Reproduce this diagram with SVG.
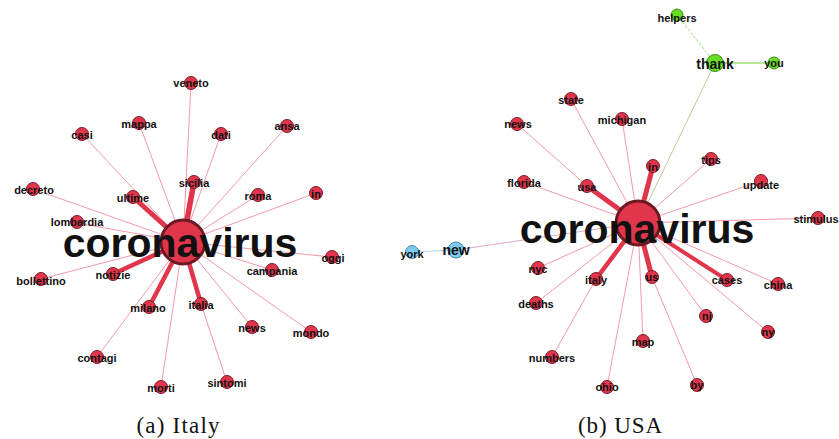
<svg xmlns="http://www.w3.org/2000/svg" width="839" height="439" viewBox="0 0 839 439">
<style>
.n{fill:#e0354b;stroke:#7a1f2b;stroke-width:1}
.hub{fill:#e0354b;stroke:#6b1a24;stroke-width:3}
.g{fill:#66dd22;stroke:#3a8a1a;stroke-width:1}
.b{fill:#7ccaf0;stroke:#4a88aa;stroke-width:1}
.l{font-family:"Liberation Sans",Arial,sans-serif;font-weight:bold;font-size:11px;fill:#111;text-anchor:middle}
.lb{font-family:"Liberation Sans",Arial,sans-serif;font-weight:bold;font-size:14px;fill:#111;text-anchor:middle}
.h{font-family:"Liberation Sans",Arial,sans-serif;font-weight:bold;font-size:41px;fill:#111;text-anchor:middle}
.e{stroke:#f07f96;stroke-width:0.8;fill:none}
.t{stroke:#e0354b;fill:none;stroke-linecap:round}
.cap{font-family:"Liberation Serif","Times New Roman",serif;font-size:23px;fill:#111;text-anchor:middle}
</style>
<g id="connectors">
<line class="e" x1="183" y1="242" x2="191" y2="83"/>
<line class="e" x1="183" y1="242" x2="82" y2="134"/>
<line class="e" x1="183" y1="242" x2="139" y2="123"/>
<line class="e" x1="183" y1="242" x2="221" y2="134"/>
<line class="e" x1="183" y1="242" x2="287" y2="126"/>
<line class="e" x1="183" y1="242" x2="33" y2="189"/>
<line class="e" x1="183" y1="242" x2="258" y2="195"/>
<line class="e" x1="183" y1="242" x2="316" y2="193"/>
<line class="e" x1="183" y1="242" x2="77" y2="223"/>
<line class="e" x1="183" y1="242" x2="332" y2="257"/>
<line class="e" x1="183" y1="242" x2="41" y2="279"/>
<line class="e" x1="183" y1="242" x2="272" y2="270"/>
<line class="e" x1="183" y1="242" x2="97" y2="357"/>
<line class="e" x1="183" y1="242" x2="161" y2="387"/>
<line class="e" x1="183" y1="242" x2="252" y2="327"/>
<line class="e" x1="183" y1="242" x2="311" y2="332"/>
<line class="e" x1="201" y1="304" x2="227" y2="382"/>
<line class="t" stroke-width="5.5" x1="183" y1="242" x2="194" y2="182"/>
<line class="t" stroke-width="5" x1="183" y1="242" x2="133" y2="197"/>
<line class="t" stroke-width="4.5" x1="183" y1="242" x2="113" y2="274"/>
<line class="t" stroke-width="4.5" x1="183" y1="242" x2="149" y2="307"/>
<line class="t" stroke-width="4.5" x1="183" y1="242" x2="201" y2="304"/>
<line class="e" x1="638" y1="223" x2="571" y2="99"/>
<line class="e" x1="638" y1="223" x2="622" y2="119"/>
<line class="e" x1="587" y1="186" x2="517" y2="124"/>
<line class="e" x1="638" y1="223" x2="524" y2="182"/>
<line class="e" x1="638" y1="223" x2="711" y2="159"/>
<line class="e" x1="638" y1="223" x2="761" y2="181"/>
<line class="e" x1="638" y1="223" x2="818" y2="218"/>
<line class="e" x1="638" y1="223" x2="538" y2="268"/>
<line class="e" x1="638" y1="223" x2="536" y2="303"/>
<line class="e" x1="596" y1="279" x2="552" y2="357"/>
<line class="e" x1="638" y1="223" x2="607" y2="387"/>
<line class="e" x1="638" y1="223" x2="643" y2="341"/>
<line class="e" x1="652" y1="277" x2="697" y2="385"/>
<line class="e" x1="638" y1="223" x2="706" y2="316"/>
<line class="e" x1="638" y1="223" x2="768" y2="332"/>
<line class="e" x1="638" y1="223" x2="778" y2="284"/>
<line stroke="#d8a0c0" stroke-width="0.9" x1="638" y1="223" x2="456" y2="250"/>
<line stroke="#a8d8f0" stroke-width="1" x1="456" y1="250" x2="412" y2="252"/>
<line stroke="#c8c89a" stroke-width="1" x1="638" y1="223" x2="715" y2="63"/>
<line stroke="#9be070" stroke-width="1" stroke-dasharray="3 1.5" x1="715" y1="63" x2="677" y2="15"/>
<line stroke="#9be070" stroke-width="1.6" x1="715" y1="63" x2="774" y2="63"/>
<line class="t" stroke-width="5" x1="638" y1="223" x2="587" y2="186"/>
<line class="t" stroke-width="5" x1="638" y1="223" x2="653" y2="166"/>
<line class="t" stroke-width="4.5" x1="638" y1="223" x2="596" y2="279"/>
<line class="t" stroke-width="5" x1="638" y1="223" x2="652" y2="277"/>
<line class="t" stroke-width="4" x1="638" y1="223" x2="727" y2="280"/>
</g>
<g id="veneto"><circle class="n" cx="191" cy="83" r="6.5"/><text class="l" x="191" y="87">veneto</text></g>
<g id="casi"><circle class="n" cx="82" cy="134" r="6.5"/><text class="l" x="82" y="139">casi</text></g>
<g id="mappa"><circle class="n" cx="139" cy="123" r="6.5"/><text class="l" x="139" y="128">mappa</text></g>
<g id="dati"><circle class="n" cx="221" cy="134" r="6.5"/><text class="l" x="221" y="139">dati</text></g>
<g id="ansa"><circle class="n" cx="287" cy="126" r="6.5"/><text class="l" x="287" y="130">ansa</text></g>
<g id="decreto"><circle class="n" cx="33" cy="189" r="6.5"/><text class="l" x="34" y="194">decreto</text></g>
<g id="ultime"><circle class="n" cx="133" cy="197" r="6.5"/><text class="l" x="133" y="202">ultime</text></g>
<g id="sicilia"><circle class="n" cx="194" cy="182" r="6.5"/><text class="l" x="194" y="187">sicilia</text></g>
<g id="roma"><circle class="n" cx="258" cy="195" r="6.5"/><text class="l" x="258" y="200">roma</text></g>
<g id="in-it"><circle class="n" cx="316" cy="193" r="6.5"/><text class="l" x="316" y="198">in</text></g>
<g id="lombardia"><circle class="n" cx="77" cy="222" r="6.5"/><text class="l" x="77" y="226">lombardia</text></g>
<g id="oggi"><circle class="n" cx="332" cy="257" r="6.5"/><text class="l" x="333" y="262">oggi</text></g>
<g id="campania"><circle class="n" cx="272" cy="270" r="6.5"/><text class="l" x="272" y="275">campania</text></g>
<g id="bollettino"><circle class="n" cx="41" cy="279" r="6.5"/><text class="l" x="41" y="285">bollettino</text></g>
<g id="notizie"><circle class="n" cx="113" cy="274" r="6.5"/><text class="l" x="113" y="279">notizie</text></g>
<g id="milano"><circle class="n" cx="149" cy="307" r="6.5"/><text class="l" x="148" y="312">milano</text></g>
<g id="italia"><circle class="n" cx="201" cy="304" r="6.5"/><text class="l" x="201" y="309">italia</text></g>
<g id="news-it"><circle class="n" cx="252" cy="327" r="6.5"/><text class="l" x="252" y="332">news</text></g>
<g id="mondo"><circle class="n" cx="311" cy="332" r="6.5"/><text class="l" x="311" y="337">mondo</text></g>
<g id="contagi"><circle class="n" cx="97" cy="357" r="6.5"/><text class="l" x="97" y="362">contagi</text></g>
<g id="morti"><circle class="n" cx="161" cy="387" r="6.5"/><text class="l" x="161" y="392">morti</text></g>
<g id="sintomi"><circle class="n" cx="227" cy="382" r="6.5"/><text class="l" x="227" y="387">sintomi</text></g>
<g id="coronavirus-it"><circle class="hub" cx="183" cy="242" r="22"/><text class="h" x="180" y="257">coronavirus</text></g>
<g id="helpers"><circle class="g" cx="677" cy="15" r="6"/><text class="l" x="677" y="22">helpers</text></g>
<g id="you"><circle class="g" cx="774" cy="63" r="6"/><text class="l" x="774" y="67">you</text></g>
<g id="thank"><circle class="g" cx="715" cy="63" r="8.5"/><text class="lb" x="715" y="69">thank</text></g>
<g id="state"><circle class="n" cx="571" cy="99" r="6.5"/><text class="l" x="571" y="104">state</text></g>
<g id="michigan"><circle class="n" cx="622" cy="119" r="6.5"/><text class="l" x="622" y="124">michigan</text></g>
<g id="news-us"><circle class="n" cx="517" cy="124" r="6.5"/><text class="l" x="518" y="128">news</text></g>
<g id="florida"><circle class="n" cx="524" cy="182" r="6.5"/><text class="l" x="524" y="187">florida</text></g>
<g id="usa"><circle class="n" cx="587" cy="186" r="6.5"/><text class="l" x="587" y="191">usa</text></g>
<g id="in-us"><circle class="n" cx="653" cy="166" r="6.5"/><text class="l" x="653" y="171">in</text></g>
<g id="tips"><circle class="n" cx="711" cy="159" r="6.5"/><text class="l" x="711" y="164">tips</text></g>
<g id="update"><circle class="n" cx="761" cy="181" r="6.5"/><text class="l" x="761" y="189">update</text></g>
<g id="stimulus"><circle class="n" cx="818" cy="218" r="6.5"/><text class="l" x="816" y="223">stimulus</text></g>
<g id="york"><circle class="b" cx="412" cy="252" r="6.5"/><text class="l" x="412" y="258">york</text></g>
<g id="new"><circle class="b" cx="456" cy="250" r="8"/><text class="lb" x="456" y="255">new</text></g>
<g id="nyc"><circle class="n" cx="538" cy="268" r="6.5"/><text class="l" x="538" y="273">nyc</text></g>
<g id="italy"><circle class="n" cx="596" cy="279" r="6.5"/><text class="l" x="596" y="284">italy</text></g>
<g id="us"><circle class="n" cx="652" cy="277" r="6.5"/><text class="l" x="652" y="281">us</text></g>
<g id="cases"><circle class="n" cx="727" cy="280" r="6.5"/><text class="l" x="727" y="284">cases</text></g>
<g id="china"><circle class="n" cx="778" cy="284" r="6.5"/><text class="l" x="778" y="289">china</text></g>
<g id="deaths"><circle class="n" cx="536" cy="303" r="6.5"/><text class="l" x="536" y="308">deaths</text></g>
<g id="nj"><circle class="n" cx="706" cy="316" r="6.5"/><text class="l" x="707" y="320">nj</text></g>
<g id="ny"><circle class="n" cx="768" cy="332" r="6.5"/><text class="l" x="768" y="336">ny</text></g>
<g id="map"><circle class="n" cx="643" cy="341" r="6.5"/><text class="l" x="643" y="346">map</text></g>
<g id="numbers"><circle class="n" cx="552" cy="357" r="6.5"/><text class="l" x="552" y="362">numbers</text></g>
<g id="ohio"><circle class="n" cx="607" cy="387" r="6.5"/><text class="l" x="607" y="391">ohio</text></g>
<g id="by"><circle class="n" cx="697" cy="385" r="6.5"/><text class="l" x="697" y="389">by</text></g>
<g id="coronavirus-us"><circle class="hub" cx="638" cy="223" r="22"/><text class="h" x="637" y="243">coronavirus</text></g>
<g id="captions">
<text class="cap" x="178" y="433" textLength="83" lengthAdjust="spacing">(a) Italy</text>
<text class="cap" x="620" y="433" textLength="84" lengthAdjust="spacing">(b) USA</text>
</g>
</svg>
